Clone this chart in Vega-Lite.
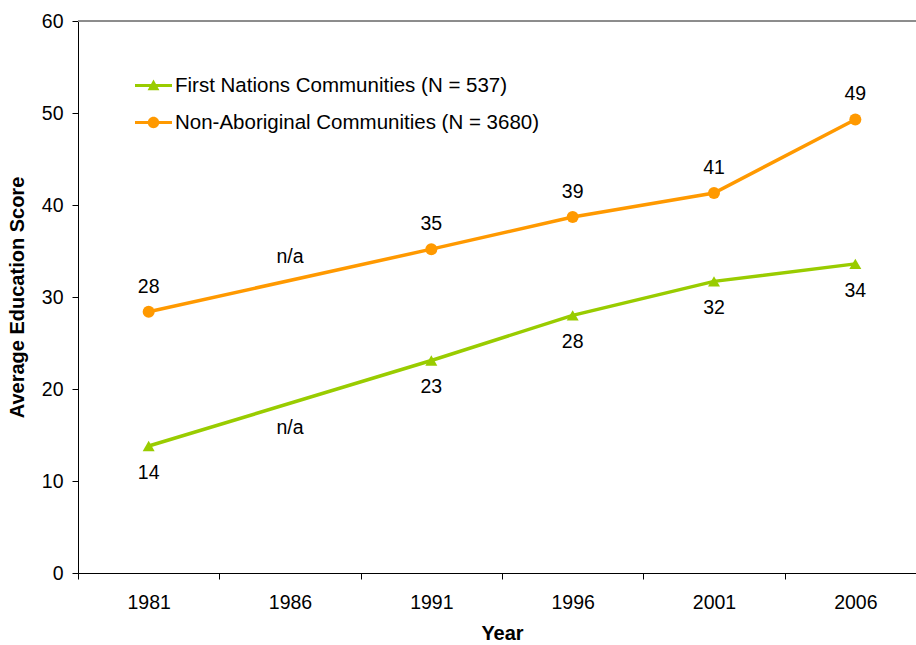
{
  "$schema": "https://vega.github.io/schema/vega-lite/v6.json",
  "width": 848,
  "height": 552,
  "autosize": "none",
  "padding": {"left": 78, "top": 21, "right": 0, "bottom": 72},
  "background": "white",
  "config": {
    "view": {"stroke": null},
    "font": "Liberation Sans",
    "axis": {
      "domainColor": "black",
      "domainWidth": 1,
      "tickColor": "black",
      "tickWidth": 1,
      "tickSize": 6,
      "grid": false,
      "labelFont": "Liberation Sans",
      "labelFontSize": 19.5,
      "labelColor": "black",
      "titleFont": "Liberation Sans",
      "titleFontSize": 20,
      "titleFontWeight": "bold",
      "titleColor": "black"
    },
    "legend": {
      "title": null,
      "orient": "none",
      "legendX": 57,
      "legendY": 46,
      "direction": "vertical",
      "padding": 0,
      "labelFont": "Liberation Sans",
      "labelFontSize": 20.5,
      "labelColor": "black",
      "labelOffset": 3,
      "labelLimit": 0,
      "rowPadding": 8,
      "symbolSize": 1369,
      "symbolStrokeWidth": 0,
      "symbolOpacity": 1
    }
  },
  "data": {
    "values": [
      {"year": "1981", "series": "First Nations Communities (N = 537)", "score": 13.8, "naLabelAt": null},
      {"year": "1986", "series": "First Nations Communities (N = 537)", "score": null, "naLabelAt": 15.8},
      {"year": "1991", "series": "First Nations Communities (N = 537)", "score": 23.1, "naLabelAt": null},
      {"year": "1996", "series": "First Nations Communities (N = 537)", "score": 28.0, "naLabelAt": null},
      {"year": "2001", "series": "First Nations Communities (N = 537)", "score": 31.7, "naLabelAt": null},
      {"year": "2006", "series": "First Nations Communities (N = 537)", "score": 33.6, "naLabelAt": null},
      {"year": "1981", "series": "Non-Aboriginal Communities (N = 3680)", "score": 28.4, "naLabelAt": null},
      {"year": "1986", "series": "Non-Aboriginal Communities (N = 3680)", "score": null, "naLabelAt": 34.4},
      {"year": "1991", "series": "Non-Aboriginal Communities (N = 3680)", "score": 35.2, "naLabelAt": null},
      {"year": "1996", "series": "Non-Aboriginal Communities (N = 3680)", "score": 38.7, "naLabelAt": null},
      {"year": "2001", "series": "Non-Aboriginal Communities (N = 3680)", "score": 41.3, "naLabelAt": null},
      {"year": "2006", "series": "Non-Aboriginal Communities (N = 3680)", "score": 49.3, "naLabelAt": null}
    ]
  },
  "resolve": {"scale": {"color": "independent", "shape": "independent"}},
  "layer": [
    {
      "mark": {"type": "rule", "color": "#8c8c8c", "strokeWidth": 1},
      "encoding": {
        "y": {"datum": 60, "type": "quantitative", "scale": {"domain": [0, 60]}}
      }
    },
    {
      "transform": [{"filter": "datum.score != null"}],
      "mark": {"type": "line", "strokeWidth": 3.5},
      "encoding": {
        "x": {
          "field": "year", "type": "ordinal",
          "scale": {"type": "band", "domain": ["1981", "1986", "1991", "1996", "2001", "2006"], "paddingInner": 0, "paddingOuter": 0},
          "axis": {"title": "Year", "labelAngle": 0, "tickBand": "extent", "labelPadding": 14, "titlePadding": 12}
        },
        "y": {
          "field": "score", "type": "quantitative",
          "scale": {"domain": [0, 60], "nice": false, "zero": true},
          "axis": {"title": "Average Education Score", "values": [0, 10, 20, 30, 40, 50, 60], "labelPadding": 9, "titlePadding": 14}
        },
        "color": {
          "field": "series", "type": "nominal",
          "scale": {"domain": ["First Nations Communities (N = 537)", "Non-Aboriginal Communities (N = 3680)"], "range": ["#99cc00", "#ff9900"]},
          "legend": null
        }
      }
    },
    {
      "transform": [{"filter": "datum.score != null"}],
      "mark": {"type": "point", "filled": true, "opacity": 1, "size": 144},
      "encoding": {
        "x": {"field": "year", "type": "ordinal", "scale": {"type": "band"}},
        "y": {"field": "score", "type": "quantitative"},
        "shape": {
          "field": "series", "type": "nominal",
          "scale": {"domain": ["First Nations Communities (N = 537)", "Non-Aboriginal Communities (N = 3680)"], "range": ["triangle-up", "circle"]},
          "legend": null
        },
        "color": {
          "field": "series", "type": "nominal",
          "scale": {"domain": ["First Nations Communities (N = 537)", "Non-Aboriginal Communities (N = 3680)"], "range": ["#99cc00", "#ff9900"]},
          "legend": null
        }
      }
    },
    {
      "description": "Key entries: a line segment with the series marker",
      "transform": [{"filter": "false"}],
      "mark": {"type": "point", "filled": true, "opacity": 1},
      "encoding": {
        "shape": {
          "field": "series", "type": "nominal",
          "scale": {
            "domain": ["First Nations Communities (N = 537)", "Non-Aboriginal Communities (N = 3680)"],
            "range": [
              "M-1,-0.081L1,-0.081L1,0.081L-1,0.081Z M0,-0.32L0.32,0.26L-0.32,0.26Z",
              "M-1,-0.081L1,-0.081L1,0.081L-1,0.081Z M0.31,0A0.31,0.31,0,1,1,-0.31,0A0.31,0.31,0,1,1,0.31,0Z"
            ]
          }
        },
        "color": {
          "field": "series", "type": "nominal",
          "scale": {"domain": ["First Nations Communities (N = 537)", "Non-Aboriginal Communities (N = 3680)"], "range": ["#99cc00", "#ff9900"]}
        }
      }
    },
    {
      "transform": [{"filter": "datum.score != null && datum.series === 'Non-Aboriginal Communities (N = 3680)'"}],
      "mark": {"type": "text", "fontSize": 19.5, "color": "black", "baseline": "middle", "dy": -25},
      "encoding": {
        "x": {"field": "year", "type": "ordinal", "scale": {"type": "band"}},
        "y": {"field": "score", "type": "quantitative"},
        "text": {"field": "score", "type": "quantitative", "format": ".0f"}
      }
    },
    {
      "transform": [{"filter": "datum.score != null && datum.series === 'First Nations Communities (N = 537)'"}],
      "mark": {"type": "text", "fontSize": 19.5, "color": "black", "baseline": "middle", "dy": 27},
      "encoding": {
        "x": {"field": "year", "type": "ordinal", "scale": {"type": "band"}},
        "y": {"field": "score", "type": "quantitative"},
        "text": {"field": "score", "type": "quantitative", "format": ".0f"}
      }
    },
    {
      "transform": [{"filter": "datum.naLabelAt != null"}],
      "mark": {"type": "text", "fontSize": 19.5, "color": "black", "baseline": "middle"},
      "encoding": {
        "x": {"field": "year", "type": "ordinal", "scale": {"type": "band"}},
        "y": {"field": "naLabelAt", "type": "quantitative"},
        "text": {"value": "n/a"}
      }
    }
  ]
}
